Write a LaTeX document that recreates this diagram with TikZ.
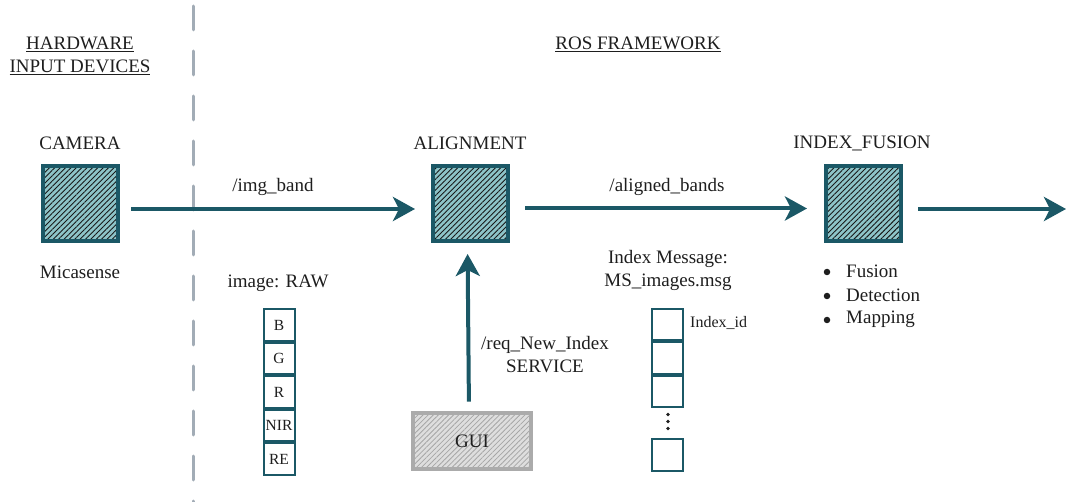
\documentclass[tikz,border=0pt]{standalone}
\usepackage{fontspec}
\setmainfont{Liberation Serif}
\usetikzlibrary{patterns,patterns.meta,arrows.meta}
\definecolor{dteal}{HTML}{1B5866}
\definecolor{lteal}{HTML}{8DC4C8}
\definecolor{sepgray}{HTML}{A2ACB6}
\definecolor{guiborder}{HTML}{ABABAB}
\definecolor{guifill}{HTML}{DEDEDE}
\definecolor{txt}{HTML}{1E1E1E}
\begin{document}
\begin{tikzpicture}[x=1pt,y=-1pt,
  lbl/.style={font=\fontsize{19}{23}\selectfont, text=txt, inner sep=0pt, align=center},
  small/.style={font=\fontsize{16}{19}\selectfont, text=txt, inner sep=0pt},
  proc/.style={draw=dteal, line width=4pt, minimum width=75pt, minimum height=75pt, inner sep=0pt,
    preaction={fill=lteal}, pattern={Lines[angle=45,distance=3.8pt,line width=0.9pt]}, pattern color=black!90},
  gui/.style={draw=guiborder, line width=4pt, minimum width=118pt, minimum height=56pt, inner sep=0pt,
    preaction={fill=guifill}, pattern={Lines[angle=45,distance=3.6pt,line width=0.8pt]}, pattern color=black!35,
    font=\fontsize{19}{23}\selectfont, text=txt},
  cell/.style={draw=dteal, line width=2pt, minimum width=31pt, minimum height=31.5pt, inner sep=0pt,
    font=\fontsize{15.5}{18}\selectfont, text=txt, fill=white},
  arr/.style={draw=dteal, line width=4pt, -{Stealth[length=22pt,width=24pt,inset=6pt]}},
  dotn/.style={circle, fill=txt, inner sep=0pt, minimum size=3.6pt},
  bulletn/.style={circle, fill=txt, inner sep=0pt, minimum size=6.5pt},
]
\useasboundingbox (0,0) rectangle (1079,502);
% separator
\draw[sepgray, line width=3pt, line cap=round, dash pattern=on 24pt off 21pt] (193,6) -- (193,502);
% headings
\node[lbl] (hw) at (80,56) {\underline{HARDWARE}\\\underline{INPUT DEVICES}};
\node[lbl] (ros) at (638,44) {\underline{ROS FRAMEWORK}};
% processes
\node[proc] (cam) at (80.5,203.5) {};
\node[proc] (align) at (470.5,203.5) {};
\node[proc] (fus) at (863.5,203.5) {};
\node[lbl] (camlbl) at (80,143) {CAMERA};
\node[lbl] (alignlbl) at (470,143) {ALIGNMENT};
\node[lbl] (fuslbl) at (862,143) {INDEX\_FUSION};
\node[lbl] (mica) at (80,272) {Micasense};
% arrows
\coordinate (out) at (1066,209);
\draw[arr, shorten <=13pt, shorten >=16pt] ([yshift=-5.5pt]cam.east) -- ([yshift=-5.5pt]align.west);
\draw[arr, shorten <=15pt, shorten >=17pt] ([yshift=-5pt]align.east) -- ([yshift=-5pt]fus.west);
\draw[arr, shorten <=15pt] ([yshift=-5.5pt]fus.east) -- (out);
\node[lbl] (imgband) at (273,187) {/img\_band};
\node[lbl] (aligned) at (667,187) {/aligned\_bands};
% bullets
\node[bulletn] (b1) at (827,272) {};
\node[bulletn] (b2) at (827,296) {};
\node[bulletn] (b3) at (827,320) {};
\node[lbl, anchor=west] (t1) at (846,271) {Fusion};
\node[lbl, anchor=west] (t2) at (846,295) {Detection};
\node[lbl, anchor=west] (t3) at (846,319) {Mapping};
% raw image stack
\node[lbl] (raw) at (278,283) {image: RAW};
\node[cell] (cB) at (279,325) {B};
\node[cell, anchor=north] (cG) at (cB.south) {G};
\node[cell, anchor=north] (cR) at (cG.south) {R};
\node[cell, anchor=north] (cN) at (cR.south) {NIR};
\node[cell, anchor=north] (cE) at (cN.south) {RE};
% GUI + service
\node[gui] (guib) at (472,441) {GUI};
\draw[arr, shorten <=11pt, shorten >=11pt] ([xshift=-3pt]guib.north) -- ([xshift=-3pt]align.south);
\node[lbl] (req) at (545,355) {/req\_New\_Index\\SERVICE};
% index message stack
\node[lbl] (imsg) at (668,270) {Index Message:\\MS\_images.msg};
\node[cell] (i1) at (667,324.5) {};
\node[cell, anchor=north] (i2) at (i1.south) {};
\node[cell, anchor=north] (i3) at (i2.south) {};
\node[cell] (i4) at (667,455) {};
\node[small, anchor=west] (iid) at (690,323) {Index\_id};
\node[dotn] (d1) at (668,414.5) {};
\node[dotn] (d2) at (668,421.5) {};
\node[dotn] (d3) at (668,428.5) {};
\end{tikzpicture}
\end{document}
